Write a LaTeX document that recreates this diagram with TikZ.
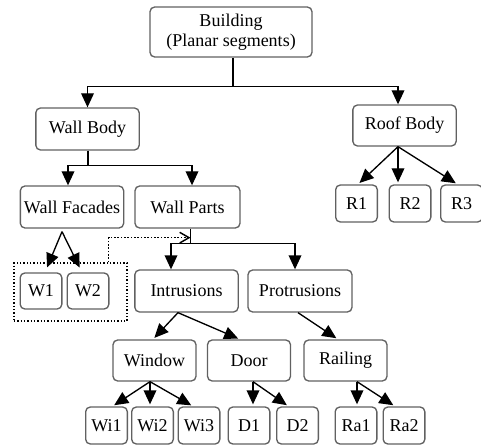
\documentclass[tikz,border=0pt]{standalone}
\usepackage{fontspec}
\setmainfont{Liberation Serif}
\usetikzlibrary{positioning,arrows.meta}

\begin{document}
\begin{tikzpicture}[x=0.75pt, y=-0.75pt,
  font=\fontsize{13.5}{15}\selectfont,
  box/.style={draw=black!62, rounded corners=3.5pt, line width=1pt, inner sep=0pt, align=center},
  big/.style={box, minimum width=77.5pt, minimum height=31.5pt},
  mid/.style={box, minimum width=62.25pt, minimum height=30.75pt},
  leaf/.style={box, minimum width=31.25pt, minimum height=27.75pt},
  arr/.style={-{Triangle[length=10.5pt, width=9.5pt]}, line width=1pt},
  dots/.style={line width=1.1pt, dash pattern=on 1.1pt off 1.4pt}]
\useasboundingbox (0,0) rectangle (481,445);
% levels 0 and 1
\node[box, minimum width=121.5pt, minimum height=37.5pt] (bld) at (231,32) {Building\\ (Planar segments)};
\node[big] (wallbody) at (87.5,129) {Wall Body};
\node[big, minimum height=30.75pt] (roofbody) at (404.5,125.5) {Roof Body};
% wall level
\node[big] (facades) at (72,207) {Wall Facades};
\node[big, minimum width=78.75pt] (parts) at (187.5,207) {Wall Parts};
\node[leaf] (r1) at (356.5,203.5) {R1};
\node[leaf] (r2) at (410,203.5) {R2};
\node[leaf] (r3) at (461.5,203.5) {R3};
% facades group
\node[leaf, minimum height=27pt] (w1) at (41,291) {W1};
\node[leaf, minimum height=27pt] (w2) at (88,291) {W2};
\node[dots, draw, minimum width=84.75pt, minimum height=43.5pt] (wgroup) at (70.5,292) {};
% parts
\node[big] (intr) at (186.5,291) {Intrusions};
\node[big, minimum width=78pt] (protr) at (300,291) {Protrusions};
\node[mid] (window) at (154.5,360.5) {Window};
\node[mid] (door) at (249,360.5) {Door};
\node[mid] (railing) at (345.5,360.5) {Railing};
% leaves
\node[leaf] (wi1) at (106.5,425.5) {Wi1};
\node[leaf] (wi2) at (152.5,425.5) {Wi2};
\node[leaf] (wi3) at (199,425.5) {Wi3};
\node[leaf] (d1) at (249,425.5) {D1};
\node[leaf] (d2) at (297.5,425.5) {D2};
\node[leaf] (ra1) at (356,425.5) {Ra1};
\node[leaf] (ra2) at (404,425.5) {Ra2};

% elbow connectors
\draw[line width=1pt] ([shift={(2,0)}]bld.south) -- ++(0,29) coordinate (jb);
\draw[arr] (jb) -| (wallbody.north);
\draw[arr] (jb) -| ([shift={(-6.5,0)}]roofbody.north);
\draw[line width=1pt] ([shift={(0.5,0)}]wallbody.south) -- ++(0,15) coordinate (jw);
\draw[arr] (jw) -| ([shift={(-4,0)}]facades.north);
\draw[arr] (jw) -| ([shift={(4.5,0)}]parts.north);
\draw[line width=1pt] ([shift={(3,0)}]parts.south) -- ++(0,15) coordinate (jp);
\draw[arr] (jp) -| ([shift={(-15.5,0)}]intr.north);
\draw[arr] (jp) -| ([shift={(-5,0)}]protr.north);
\coordinate (jd) at ([shift={(3,9)}]parts.south);
\draw[dots, -{Straight Barb[length=7pt, width=8pt]}] ([shift={(-19,0)}]wgroup.north east) |- (jd);

% roof body
\draw[arr, shorten >=1.5pt] ([shift={(-6.5,0)}]roofbody.south) -- ([shift={(1.5,0)}]r1.north);
\draw[arr, shorten >=1.5pt] ([shift={(-6.5,0)}]roofbody.south) -- ([shift={(-12,0)}]r2.north);
\draw[arr, shorten >=1.5pt] ([shift={(-6.5,0)}]roofbody.south) -- ([shift={(-4,0)}]r3.north);
% facades
\draw[arr, shorten >=4pt] ([shift={(-10,3)}]facades.south) -- ([shift={(4,0)}]w1.north);
\draw[arr, shorten >=4pt] ([shift={(-10,3)}]facades.south) -- ([shift={(-6,0)}]w2.north);
% intrusions, protrusions
\draw[arr, shorten >=1.5pt] ([shift={(-8.5,0)}]intr.south) -- ([shift={(-1.5,0)}]window.north);
\draw[arr, shorten >=1.5pt] ([shift={(-8.5,0)}]intr.south) -- ([shift={(-9,0)}]door.north);
\draw[arr, shorten >=1.5pt] ([shift={(-2,0)}]protr.south) -- ([shift={(-7.5,0)}]railing.north);
% window, door, railing
\draw[arr, shorten >=1.5pt] ([shift={(-4.5,0)}]window.south) -- ([shift={(6,0)}]wi1.north);
\draw[arr, shorten >=1.5pt] ([shift={(-4.5,0)}]window.south) -- ([shift={(-2.5,0)}]wi2.north);
\draw[arr, shorten >=1.5pt] ([shift={(-4.5,0)}]window.south) -- ([shift={(-6,0)}]wi3.north);
\draw[arr, shorten >=1.5pt] ([shift={(4,0)}]door.south) -- ([shift={(4,0)}]d1.north);
\draw[arr, shorten >=1.5pt] ([shift={(4,0)}]door.south) -- ([shift={(-9,0)}]d2.north);
\draw[arr, shorten >=1.5pt] ([shift={(11.5,0)}]railing.south) -- ([shift={(1,0)}]ra1.north);
\draw[arr, shorten >=1.5pt] ([shift={(11.5,0)}]railing.south) -- ([shift={(-9,0)}]ra2.north);
\end{tikzpicture}
\end{document}
